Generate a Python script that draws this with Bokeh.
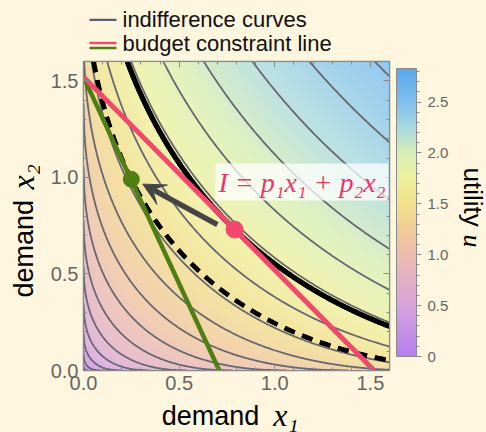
import numpy as np
from bokeh.plotting import figure
from bokeh.layouts import column, row
from bokeh.models import (Range1d, LinearAxis, FixedTicker, ColorBar, LinearColorMapper,
                          Label, Arrow, VeeHead, PrintfTickFormatter)
from bokeh.embed import file_html
from bokeh.resources import INLINE
from bokeh.core.properties import value

# ---------------- data ----------------
budget_red_x = [0.0, 1.52]
budget_red_y = [1.52, 0.0]
budget_green_x = [0.0, 0.71]
budget_green_y = [1.52, 0.0]
optimum_red = (0.79, 0.73)
optimum_green = (0.25, 0.99)
util_weights = (1.0, 1.0)      # u = w1*x1^a + w2*x2^a
util_exponent = 0.5
contour_levels = [0.147, 0.294, 0.441, 0.588, 0.735, 0.882, 1.029, 1.176, 1.323,
                  1.470, 1.617, 1.764, 1.911, 2.058, 2.205, 2.352, 2.499]
u_low, u_high = 0.0, 2.83
axis_ticks = [0.0, 0.5, 1.0, 1.5]
axis_minor = [round(0.1 * i, 1) for i in range(17)]
cbar_ticks = [0.0, 0.5, 1.0, 1.5, 2.0, 2.5]
cbar_minor = [round(0.1 * i, 1) for i in range(29)]
cbar_labels = ["0", "0.5", "1.0", "1.5", "2.0", "2.5"]
# colour stops of the utility colour map
cmap_pos = [0.0, 0.5, 1.0, 1.25, 1.5, 1.75, 2.0, 2.25, 2.5, 2.83]
cmap_hex = ["#b67ef0", "#d8a4dc", "#ecbcae", "#f0cc98", "#f2e08c", "#eef09e",
            "#d8eeb6", "#a8d8e0", "#80c0ec", "#58a8ec"]

BG = "#fef6de"
SANS = "Liberation Sans"
SERIF = "Liberation Serif"
RED = "#f2486e"
GREEN = "#4f7e12"
FRAME = "#8a8a8a"


def hex2rgb(h):
    return tuple(int(h[i:i + 2], 16) for i in (1, 3, 5))


def build_palette(n=256):
    pts = np.linspace(u_low, u_high, n)
    rgb = np.array([hex2rgb(h) for h in cmap_hex], dtype=float)
    out = []
    for v in pts:
        r, g, b = (np.interp(v, cmap_pos, rgb[:, k]) for k in range(3))
        out.append("#%02x%02x%02x" % (int(round(r)), int(round(g)), int(round(b))))
    return out


palette = build_palette()

# utility surface
n = 400
gx = np.linspace(0, 1.6, n)
gy = np.linspace(0, 1.6, n)
X1, X2 = np.meshgrid(gx, gy)
U = util_weights[0] * X1 ** util_exponent + util_weights[1] * X2 ** util_exponent
u_red = util_weights[0] * optimum_red[0] ** util_exponent + util_weights[1] * optimum_red[1] ** util_exponent
u_green = util_weights[0] * optimum_green[0] ** util_exponent + util_weights[1] * optimum_green[1] ** util_exponent


def blank_fig(w, h, xr=None):
    f = figure(width=w, height=h, x_range=xr if xr is not None else Range1d(0, w),
               y_range=Range1d(0, h), toolbar_location=None, output_backend="svg",
               min_border=0, title=None)
    f.axis.visible = False
    f.grid.visible = False
    f.outline_line_color = None
    f.background_fill_color = BG
    f.border_fill_color = BG
    return f


# ---------------- legend figure (page y 0..58) ----------------
LH = 58
leg = blank_fig(486, LH)
leg.segment(x0=[89], y0=[LH - 19.3], x1=[116], y1=[LH - 19.3], line_color="#5d5d72", line_width=2.2)
leg.segment(x0=[89], y0=[LH - 42.5], x1=[116], y1=[LH - 42.5], line_color=RED, line_width=2.4)
leg.segment(x0=[89], y0=[LH - 47.5], x1=[116], y1=[LH - 47.5], line_color=GREEN, line_width=2.4)
leg.text(x=[122, 122], y=[LH - 19, LH - 43], text=["indifference curves", "budget constraint line"],
         text_font=value(SANS), text_font_size="22px", text_color="#111111",
         text_baseline="middle", text_align="left")

# ---------------- main figure (page x 40..458, y 58..400) ----------------
MX0 = 40
MW = 418
p = figure(width=MW, height=342, x_range=Range1d(0, 1.6), y_range=Range1d(0, 1.6),
           toolbar_location=None, output_backend="svg",
           min_border_left=43, min_border_right=MW - 351, min_border_top=3, min_border_bottom=30)
p.background_fill_color = "white"
p.border_fill_color = BG
p.grid.visible = False
p.outline_line_color = FRAME
p.outline_line_width = 1.5

for ax in p.axis:
    ax.ticker = FixedTicker(ticks=axis_ticks, minor_ticks=axis_minor)
    ax.formatter = PrintfTickFormatter(format="%.1f")
    ax.major_tick_in = 6
    ax.major_tick_out = 0
    ax.minor_tick_in = 3
    ax.minor_tick_out = 0
    ax.axis_line_color = FRAME
    ax.major_tick_line_color = FRAME
    ax.minor_tick_line_color = FRAME
    ax.major_label_text_font = SANS
    ax.major_label_text_font_size = "20px"
    ax.major_label_text_color = "#666666"
    ax.major_label_standoff = 5

for side in ("right", "above"):
    a = LinearAxis(ticker=FixedTicker(ticks=axis_ticks, minor_ticks=axis_minor),
                   major_tick_in=6, major_tick_out=0, minor_tick_in=3, minor_tick_out=0,
                   axis_line_color=FRAME, major_tick_line_color=FRAME,
                   minor_tick_line_color=FRAME, major_label_text_font_size="0px",
                   major_label_standoff=0)
    p.add_layout(a, side)

mapper = LinearColorMapper(palette=palette, low=u_low, high=u_high)
p.image(image=[U], x=0, y=0, dw=1.6, dh=1.6, color_mapper=mapper, global_alpha=0.82)

p.contour(x=gx, y=gy, z=U, levels=contour_levels, fill_color=None,
          line_color="#666670", line_width=1.8)
p.contour(x=gx, y=gy, z=U, levels=[u_green - 0.0001, u_green], fill_color=None,
          line_color="black", line_width=4.5, line_dash="11 8")
p.contour(x=gx, y=gy, z=U, levels=[u_red - 0.0001, u_red], fill_color=None,
          line_color="black", line_width=5)

p.line(budget_green_x, budget_green_y, line_color=GREEN, line_width=4.5)
p.line(budget_red_x, budget_red_y, line_color=RED, line_width=5)

arrow = Arrow(end=VeeHead(size=22, fill_color="#444444", line_color="#444444"),
              x_start=0.70, y_start=0.755, x_end=0.31, y_end=0.965,
              line_color="#444444", line_width=5.5)
p.add_layout(arrow)

p.scatter([optimum_green[0]], [optimum_green[1]], size=16, fill_color=GREEN, line_color=GREEN)
p.scatter([optimum_red[0]], [optimum_red[1]], size=17, fill_color=RED, line_color=RED)

eq = Label(x=0.69, y=0.88, text="I = p\u2081x\u2081 + p\u2082x\u2082",
           text_font=SERIF, text_font_style="italic", text_font_size="28px",
           text_color="#ee3468", background_fill_color="white", background_fill_alpha=0.75,
           text_baseline="bottom", padding=3)
p.add_layout(eq)

cbar = ColorBar(color_mapper=mapper, width=20, height=288, location="top_left",
                ticker=FixedTicker(ticks=cbar_ticks, minor_ticks=cbar_minor),
                major_label_overrides={t: l for t, l in zip(cbar_ticks, cbar_labels)},
                major_label_text_font=SANS, major_label_text_font_size="15px",
                major_label_text_color="#666666",
                major_tick_line_color=FRAME, major_tick_in=0, major_tick_out=5,
                minor_tick_line_color=FRAME, minor_tick_in=0, minor_tick_out=3,
                bar_line_color=FRAME, background_fill_color=None, border_line_color=None,
                padding=7, margin=0, label_standoff=6)
p.add_layout(cbar, "right")

# ---------------- axis-label figures ----------------
RH = 374   # height of the row below the legend (page y 58..432)
ylab = blank_fig(MX0, RH)
ylab.text(x=[23], y=[RH - (297 - 58)], text=["demand"], text_font=value(SANS),
          text_font_size="27px", text_color="black", text_baseline="middle",
          text_align="left", angle=np.pi / 2)
ylab.text(x=[22], y=[RH - (189 - 58)], text=["x\u2082"], text_font=value(SERIF),
          text_font_style="italic", text_font_size="32px", text_color="black",
          text_baseline="middle", text_align="left", angle=np.pi / 2)

# the x-label figure's frame is aligned with the main frame (page x 83..391)
XH = 32
xlab = blank_fig(MW, XH, xr=Range1d(83, 391))
xlab.text(x=[260], y=[XH - (415 - 400)], text=["demand"], text_font=value(SANS),
          text_font_size="27px", text_color="black", text_baseline="middle",
          text_align="right")
xlab.text(x=[274], y=[XH - (414 - 400)], text=["x\u2081"], text_font=value(SERIF),
          text_font_style="italic", text_font_size="32px", text_color="black",
          text_baseline="middle", text_align="left")

UX0 = MX0 + MW
ulab = blank_fig(486 - UX0, RH)
ulab.text(x=[472 - UX0], y=[RH - (167 - 58)], text=["utility"], text_font=value(SANS),
          text_font_size="26px", text_color="black", text_baseline="middle",
          text_align="left", angle=-np.pi / 2)
ulab.text(x=[472 - UX0], y=[RH - (234 - 58)], text=["u"], text_font=value(SERIF),
          text_font_style="italic", text_font_size="26px", text_color="black",
          text_baseline="middle", text_align="left", angle=-np.pi / 2)

layout = column(leg, row(ylab, column(p, xlab, spacing=0), ulab, spacing=0), spacing=0)
html = file_html(layout, INLINE)
html = html.replace("<head>", "<head><style>body{background:%s;}</style>" % BG, 1)
open("out.html", "w").write(html)
